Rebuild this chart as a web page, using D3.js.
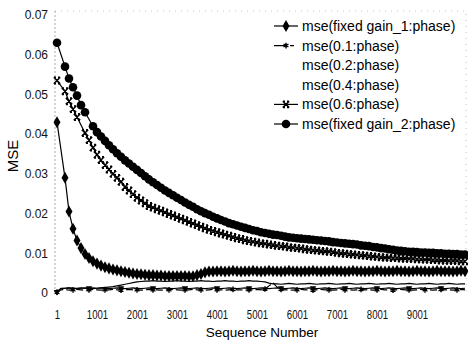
<!DOCTYPE html>
<html lang="en">
<head>
<meta charset="UTF-8">
<title>MSE vs Sequence Number</title>
<script src="https://d3js.org/d3.v7.min.js"></script>
<style>
  body { margin: 0; background: #fff; }
  svg { display: block; font-family: "Liberation Sans", Arial, sans-serif; }
  .tick text { fill: #111; }
</style>
</head>
<body>
<svg width="468" height="347"></svg>
<script>
  // sequence numbers: one sample every 100
  const seq = d3.range(1, 10202, 100);

  const gain1 = [
    0.043, null, 0.029, 0.0205, 0.0162, 0.0132, 0.0113, 0.0098, 0.0088, 0.0080,
    0.0074, 0.0069, 0.0065, 0.0062, 0.0059, 0.0057, 0.0055, 0.0053, 0.0051, 0.0049,
    0.0048, 0.0047, 0.0046, 0.0045, 0.0045, 0.0044, 0.0044, 0.0043, 0.0043, 0.0043,
    0.0043, 0.0043, 0.0043, 0.0042, 0.0042, 0.0045, 0.0048, 0.0052, 0.0054,
    0.0054, 0.0055, 0.0055, 0.0054, 0.0055, 0.0056, 0.0055, 0.0054, 0.0055, 0.0055,
    0.0056, 0.0055, 0.0054, 0.0055, 0.0056, 0.0055, 0.0055, 0.0054, 0.0055, 0.0056,
    0.0055, 0.0055, 0.0054, 0.0055, 0.0055, 0.0056, 0.0055, 0.0054, 0.0055, 0.0055,
    0.0056, 0.0055, 0.0055, 0.0054, 0.0055, 0.0056, 0.0055, 0.0055, 0.0054, 0.0055,
    0.0055, 0.0056, 0.0055, 0.0054, 0.0055, 0.0055, 0.0056, 0.0055, 0.0055, 0.0054,
    0.0055, 0.0056, 0.0055, 0.0055, 0.0054, 0.0055, 0.0056, 0.0055, 0.0055, 0.0055,
    0.0054, 0.0055, 0.0056, 0.0055
  ];
  const r01 = [
    0.0002, 0.0008, 0.0009, 0.0007, 0.0008, 0.0009, 0.0008, 0.0007, 0.0008, 0.0009,
    0.0008, 0.0007, 0.0008, 0.0008, 0.0009, 0.0008, 0.0007, 0.0008, 0.0009, 0.0008,
    0.0008, 0.0007, 0.0008, 0.0009, 0.0008, 0.0008, 0.0007, 0.0008, 0.0008, 0.0009,
    0.0008, 0.0007, 0.0008, 0.0008, 0.0009, 0.0008, 0.0008, 0.0007, 0.0008, 0.0009,
    0.0008, 0.0008, 0.0007, 0.0008, 0.0009, 0.0008, 0.0008, 0.0007, 0.0008, 0.0008,
    0.0009, 0.0008, 0.0010, 0.0018, 0.0026, 0.0015, 0.0009, 0.0008, 0.0008, 0.0007,
    0.0008, 0.0009, 0.0008, 0.0008, 0.0007, 0.0008, 0.0009, 0.0008, 0.0008, 0.0007,
    0.0008, 0.0009, 0.0008, 0.0008, 0.0007, 0.0008, 0.0009, 0.0008, 0.0008, 0.0007,
    0.0008, 0.0009, 0.0008, 0.0008, 0.0007, 0.0008, 0.0009, 0.0008, 0.0008, 0.0007,
    0.0008, 0.0009, 0.0008, 0.0008, 0.0007, 0.0008, 0.0009, 0.0008, 0.0008, 0.0007,
    0.0008, 0.0009, 0.0008
  ];
  const r02 = [
    0.0003, 0.0012, 0.0012, 0.0013, 0.0012, 0.0012, 0.0013, 0.0012, 0.0012, 0.0013,
    0.0012, 0.0013, 0.0014, 0.0015, 0.0016, 0.0018, 0.0020, 0.0022, 0.0024, 0.0026,
    0.0028, 0.0029, 0.0030, 0.0030, 0.0031, 0.0030, 0.0030, 0.0029, 0.0030, 0.0030,
    0.0031, 0.0030, 0.0030, 0.0029, 0.0030, 0.0030, 0.0031, 0.0030, 0.0030, 0.0029,
    0.0030, 0.0030, 0.0031, 0.0030, 0.0030, 0.0029, 0.0030, 0.0030, 0.0031, 0.0030,
    0.0030, 0.0029, 0.0028, 0.0025, 0.0023, 0.0023, 0.0022, 0.0023, 0.0024, 0.0023,
    0.0022, 0.0023, 0.0023, 0.0024, 0.0023, 0.0022, 0.0023, 0.0023, 0.0024, 0.0023,
    0.0022, 0.0023, 0.0023, 0.0024, 0.0023, 0.0022, 0.0023, 0.0023, 0.0024, 0.0023,
    0.0022, 0.0023, 0.0023, 0.0024, 0.0023, 0.0022, 0.0023, 0.0023, 0.0024, 0.0023,
    0.0022, 0.0023, 0.0023, 0.0024, 0.0023, 0.0022, 0.0023, 0.0023, 0.0024, 0.0023,
    0.0022, 0.0023, 0.0023
  ];
  const r04 = [
    0.0003, 0.0011, 0.0012, 0.0013, 0.0012, 0.0011, 0.0012, 0.0013, 0.0012, 0.0011,
    0.0012, 0.0013, 0.0012, 0.0011, 0.0012, 0.0013, 0.0012, 0.0011, 0.0012, 0.0013,
    0.0012, 0.0011, 0.0012, 0.0013, 0.0012, 0.0011, 0.0012, 0.0013, 0.0012, 0.0011,
    0.0012, 0.0013, 0.0012, 0.0011, 0.0012, 0.0013, 0.0012, 0.0011, 0.0012, 0.0013,
    0.0012, 0.0011, 0.0012, 0.0013, 0.0012, 0.0011, 0.0012, 0.0013, 0.0012, 0.0011,
    0.0012, 0.0013, 0.0012, 0.0011, 0.0012, 0.0013, 0.0012, 0.0011, 0.0012, 0.0013,
    0.0012, 0.0011, 0.0012, 0.0013, 0.0012, 0.0011, 0.0012, 0.0013, 0.0012, 0.0011,
    0.0012, 0.0013, 0.0012, 0.0011, 0.0012, 0.0013, 0.0012, 0.0011, 0.0012, 0.0013,
    0.0012, 0.0011, 0.0012, 0.0013, 0.0012, 0.0011, 0.0012, 0.0013, 0.0012, 0.0011,
    0.0012, 0.0013, 0.0012, 0.0011, 0.0012, 0.0013, 0.0012, 0.0011, 0.0012, 0.0013,
    0.0012, 0.0011, 0.0012
  ];
  const r06 = [
    0.0535, null, 0.0508, 0.0483, 0.0463, 0.0443, null, 0.0403, 0.0385, 0.0366,
    0.0348, 0.0335, 0.0322, 0.0311, 0.0300, 0.0290, 0.0280, 0.0267, 0.0258, 0.0249,
    0.0240, 0.0233, 0.0226, 0.0219, 0.0215, 0.0211, 0.0207, 0.0203, 0.0199, 0.0195,
    0.0191, 0.0187, 0.0183, 0.0179, 0.0175, 0.0171, 0.0167, 0.0163, 0.0159, 0.0156,
    0.0153, 0.0150, 0.0147, 0.0144, 0.0141, 0.0138, 0.0136, 0.0133, 0.0131, 0.0129,
    0.0127, 0.0125, 0.0124, 0.0122, 0.0121, 0.0119, 0.0118, 0.0117, 0.0115, 0.0114,
    0.0113, 0.0112, 0.0110, 0.0109, 0.0108, 0.0107, 0.0106, 0.0105, 0.0104, 0.0103,
    0.0101, 0.0100, 0.0099, 0.0098, 0.0097, 0.0096, 0.0095, 0.0094, 0.0093, 0.0092,
    0.0091, 0.0090, 0.0089, 0.0089, 0.0088, 0.0088, 0.0087, 0.0087, 0.0086, 0.0086,
    0.0085, 0.0085, 0.0084, 0.0084, 0.0083, 0.0083, 0.0082, 0.0082, 0.0081, 0.0081,
    0.0081, 0.0080, 0.0080
  ];
  const gain2 = [
    0.063, null, 0.057, 0.054, 0.0518, 0.0497, 0.0473, 0.0455, null, 0.0420,
    0.0405, 0.0394, 0.0383, 0.0372, 0.0362, 0.0352, 0.0343, 0.0334, 0.0326, 0.0318,
    0.0310, 0.0302, 0.0294, 0.0286, 0.0279, 0.0272, 0.0265, 0.0258, 0.0252, 0.0246,
    0.0240, 0.0234, 0.0228, 0.0222, 0.0217, 0.0211, 0.0206, 0.0201, 0.0197, 0.0192,
    0.0188, 0.0184, 0.0180, 0.0176, 0.0173, 0.0170, 0.0167, 0.0164, 0.0161, 0.0158,
    0.0156, 0.0153, 0.0151, 0.0149, 0.0147, 0.0146, 0.0144, 0.0142, 0.0140, 0.0139,
    0.0138, 0.0137, 0.0136, 0.0135, 0.0134, 0.0133, 0.0132, 0.0131, 0.0130, 0.0128,
    0.0127, 0.0126, 0.0125, 0.0124, 0.0123, 0.0122, 0.0120, 0.0119, 0.0118, 0.0116,
    0.0115, 0.0113, 0.0112, 0.0110, 0.0109, 0.0107, 0.0106, 0.0105, 0.0104, 0.0104,
    0.0103, 0.0102, 0.0102, 0.0101, 0.0101, 0.0100, 0.0100, 0.0099, 0.0099, 0.0098,
    0.0098, 0.0097, 0.0097
  ];

  const seriesNames = [
    "mse(fixed gain_1:phase)", "mse(0.1:phase)", "mse(0.2:phase)",
    "mse(0.4:phase)", "mse(0.6:phase)", "mse(fixed gain_2:phase)"
  ];
  const yTicks = [0, 0.01, 0.02, 0.03, 0.04, 0.05, 0.06, 0.07];
  const xTicks = [1, 1001, 2001, 3001, 4001, 5001, 6001, 7001, 8001, 9001];

  const svg = d3.select("svg");

  const x = d3.scaleLinear().domain([1, 10001]).range([57, 457]);
  const y = d3.scaleLinear().domain([0, 0.07]).range([293, 15]);

  // faint scanned frame: top and right edges only
  svg.append("path")
    .attr("d", "M55,11H466V293")
    .attr("fill", "none").attr("stroke", "#c0c0c0")
    .attr("stroke-dasharray", "1,5");
  svg.append("line")
    .attr("x1", 55).attr("x2", 55).attr("y1", 11).attr("y2", 293)
    .attr("stroke", "#aaa").attr("stroke-dasharray", "2,2");

  // markers
  const xMark = "M-3.2,-3.2L3.2,3.2M-3.2,3.2L3.2,-3.2M-3,-3.2H-1M1,-3.2H3M-3,3.2H-1M1,3.2H3";
  const marks = {
    diamond: (g) => g.append("path").attr("d", d3.symbol(d3.symbolDiamond, 42)()).attr("fill", "#000"),
    star: (g) => g.append("path").attr("d", d3.symbol(d3.symbolAsterisk, 22)()).attr("stroke", "#000").attr("stroke-width", 1.4).attr("fill", "none"),
    blob: (g) => g.append("path").attr("d", d3.symbol(d3.symbolTriangle, 18)()).attr("transform", "rotate(180)").attr("fill", "#000"),
    xmark: (g) => g.append("path").attr("d", xMark).attr("stroke", "#000").attr("stroke-width", 1.5).attr("fill", "none"),
    circle: (g) => g.append("circle").attr("r", 4.3).attr("fill", "#000")
  };

  const series = [
    { name: seriesNames[0], values: gain1, mark: "diamond", every: 1, dash: null, key: true },
    { name: seriesNames[1], values: r01, mark: "star", every: 4, dash: "7,3", key: true },
    { name: seriesNames[2], values: r02, mark: null, every: 1, dash: null, key: false },
    { name: seriesNames[3], values: r04, mark: "blob", every: 8, dash: null, key: false },
    { name: seriesNames[4], values: r06, mark: "xmark", every: 1, dash: null, key: true },
    { name: seriesNames[5], values: gain2, mark: "circle", every: 1, dash: null, key: true }
  ];

  const line = d3.line().x(d => x(d[0])).y(d => y(d[1]));

  series.forEach(s => {
    const pts = seq.map((n, i) => [n, s.values[i]]).filter(d => d[1] != null);
    svg.append("path")
      .datum(pts)
      .attr("d", line)
      .attr("fill", "none")
      .attr("stroke", "#000")
      .attr("stroke-width", 1.2)
      .attr("stroke-dasharray", s.dash);
    if (s.mark) {
      pts.filter((d, i) => i % s.every === 0).forEach(d => {
        const g = svg.append("g").attr("transform", `translate(${x(d[0])},${y(d[1])})`);
        marks[s.mark](g);
      });
    }
  });

  // axes
  const yAxis = svg.append("g")
    .attr("transform", "translate(55,0)")
    .call(d3.axisLeft(y).tickValues(yTicks).tickSize(0).tickPadding(7)
      .tickFormat(d => d === 0 ? "0" : d3.format(".2f")(d)));
  yAxis.select(".domain").remove();
  yAxis.selectAll("text").attr("font-size", 12).attr("font-family", "Liberation Sans, Arial, sans-serif");

  const xAxis = svg.append("g")
    .attr("transform", "translate(0,307)")
    .call(d3.axisBottom(x).tickValues(xTicks).tickSize(0).tickPadding(3).tickFormat(d3.format("d")));
  xAxis.select(".domain").remove();
  xAxis.selectAll("text")
    .attr("font-size", 12)
    .attr("font-family", "Liberation Sans, Arial, sans-serif")
    .attr("transform", "scale(0.8,1)");

  svg.append("text")
    .attr("transform", "translate(18,156) rotate(-90)")
    .attr("text-anchor", "middle")
    .attr("font-size", 15)
    .text("MSE");

  svg.append("text")
    .attr("x", 262).attr("y", 337)
    .attr("text-anchor", "middle")
    .attr("font-size", 13.5)
    .text("Sequence Number");

  // legend
  const legend = svg.append("g");
  series.forEach((s, i) => {
    const ly = 26 + i * 19.6;
    if (s.key) {
      legend.append("line")
        .attr("x1", 274).attr("x2", 298).attr("y1", ly).attr("y2", ly)
        .attr("stroke", "#000").attr("stroke-width", 1.2)
        .attr("stroke-dasharray", s.dash ? "12,4,4" : null);
      const g = legend.append("g").attr("transform", `translate(286,${ly})`);
      marks[s.mark](g);
    }
    legend.append("text")
      .attr("x", 302).attr("y", ly).attr("dy", "0.35em")
      .attr("font-size", 14)
      .text(s.name);
  });
</script>
</body>
</html>
